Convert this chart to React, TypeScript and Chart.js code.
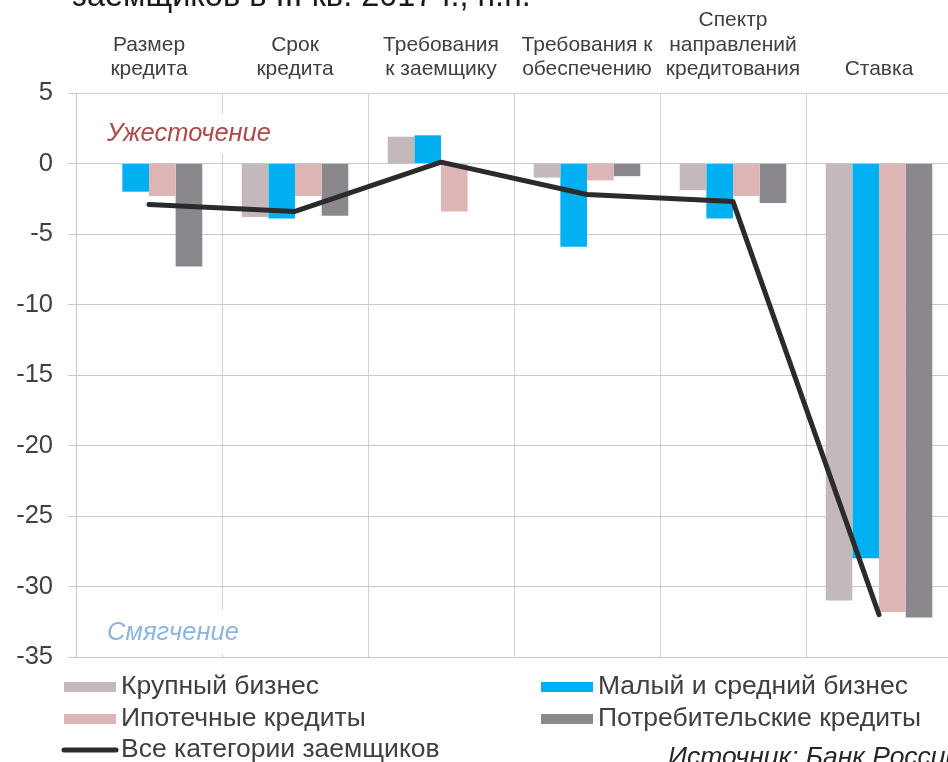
import React, { useEffect, useRef } from "react";
import { Chart, registerables } from "chart.js";

Chart.register(...registerables);

const categories: string[][] = [
  ["Размер", "кредита"],
  ["Срок", "кредита"],
  ["Требования", "к заемщику"],
  ["Требования к", "обеспечению"],
  ["Спектр", "направлений", "кредитования"],
  ["Ставка"],
];

const largeBusiness = [0, -3.8, 1.9, -1.0, -1.9, -31.0];
const smallMidBusiness = [-2.0, -3.9, 2.0, -5.9, -3.9, -28.0];
const mortgage = [-2.3, -2.3, -3.4, -1.2, -2.3, -31.8];
const consumer = [-7.3, -3.7, 0, -0.9, -2.8, -32.2];
const allBorrowers = [-2.9, -3.4, 0.1, -2.2, -2.7, -32.0];

const seriesLabels = [
  "Крупный бизнес",
  "Малый и средний бизнес",
  "Ипотечные кредиты",
  "Потребительские кредиты",
  "Все категории заемщиков",
];
const seriesColors = ["#c4b9ba", "#00b0f0", "#ddb5b5", "#8a888d", "#2b2b2b"];

const titleText = "заемщиков в III кв. 2017 г., п.п.";
const sourceText = "Источник: Банк России";
const tightenText = "Ужесточение";
const easeText = "Смягчение";

const FONT = '"Liberation Sans", Arial, sans-serif';
const TEXT = "#404040";

const overlayPlugin = {
  id: "overlay",
  beforeDatasetsDraw(chart: any) {
    const ctx = chart.ctx;
    ctx.save();
    ctx.fillStyle = "#ffffff";
    ctx.fillRect(92, 114, 200, 40);
    ctx.fillRect(92, 610, 170, 44);
    ctx.font = `italic 25.5px ${FONT}`;
    ctx.textBaseline = "middle";
    ctx.textAlign = "left";
    ctx.fillStyle = "#b04a4a";
    ctx.fillText(tightenText, 107, 134);
    ctx.fillStyle = "#8db4e2";
    ctx.fillText(easeText, 107, 633);
    ctx.restore();
  },
  afterDraw(chart: any) {
    const ctx = chart.ctx;
    ctx.save();
    // title (cut at top)
    ctx.font = `32.5px ${FONT}`;
    ctx.fillStyle = "#1a1a1a";
    ctx.textBaseline = "alphabetic";
    ctx.textAlign = "left";
    ctx.fillText(titleText, 72, 6);

    // legend
    const ds = chart.data.datasets;
    ctx.font = `26.5px ${FONT}`;
    ctx.textBaseline = "middle";
    const items = [
      { i: 0, x: 64, y: 687 },
      { i: 1, x: 541, y: 687 },
      { i: 2, x: 64, y: 719 },
      { i: 3, x: 541, y: 719 },
    ];
    for (const it of items) {
      ctx.fillStyle = ds[it.i].backgroundColor;
      ctx.fillRect(it.x, it.y - 5, 52, 10);
      ctx.fillStyle = TEXT;
      ctx.fillText(ds[it.i].label, it.x + 57, it.y);
    }
    // line legend
    ctx.strokeStyle = ds[4].borderColor;
    ctx.lineWidth = 5;
    ctx.lineCap = "round";
    ctx.beginPath();
    ctx.moveTo(64, 750);
    ctx.lineTo(116, 750);
    ctx.stroke();
    ctx.fillStyle = TEXT;
    ctx.fillText(ds[4].label, 121, 750);

    // source
    ctx.font = `italic 26.5px ${FONT}`;
    ctx.fillStyle = "#262626";
    ctx.fillText(sourceText, 668, 758);
    ctx.restore();
  },
};

export default function App() {
  const ref = useRef<HTMLCanvasElement | null>(null);
  useEffect(() => {
    if (!ref.current) return;
    const barDs = (i: number, data: number[]) => ({
      type: "bar" as const,
      label: seriesLabels[i],
      data,
      backgroundColor: seriesColors[i],
      borderWidth: 0,
      categoryPercentage: 0.73,
      barPercentage: 1,
      order: 1,
    });
    const chart = new Chart(ref.current, {
      type: "bar",
      data: {
        labels: categories,
        datasets: [
          barDs(0, largeBusiness),
          barDs(1, smallMidBusiness),
          barDs(2, mortgage),
          barDs(3, consumer),
          {
            type: "line" as const,
            label: seriesLabels[4],
            data: allBorrowers,
            borderColor: seriesColors[4],
            backgroundColor: seriesColors[4],
            borderWidth: 5,
            pointRadius: 0,
            tension: 0,
            borderCapStyle: "round",
            borderJoinStyle: "round",
            order: 0,
          } as any,
        ],
      },
      options: {
        responsive: false,
        animation: false,
        layout: { padding: { left: 0, right: 4, top: 0, bottom: 105 } },
        plugins: {
          legend: { display: false },
          tooltip: { enabled: false },
          title: { display: false },
        },
        scales: {
          x: {
            position: "top",
            offset: true,
            grid: { color: "#d0d0d0", offset: true, drawTicks: false, lineWidth: 1 },
            border: { color: "#d0d0d0" },
            ticks: {
              color: TEXT,
              font: { family: FONT, size: 21, lineHeight: 1.15 },
              padding: 12,
              maxRotation: 0,
              autoSkip: false,
            },
            afterFit: (s: any) => {
              s.height = 93;
            },
          },
          y: {
            min: -35,
            max: 5,
            grid: { color: "#c8c8c8", tickLength: 8, lineWidth: 1 },
            border: { color: "#c8c8c8" },
            ticks: {
              stepSize: 5,
              color: TEXT,
              font: { family: FONT, size: 25.5 },
              padding: 15,
              callback: (v: any) => String(v),
            },
            afterFit: (s: any) => {
              s.width = 76;
            },
          },
        },
      },
      plugins: [overlayPlugin],
    });
    return () => chart.destroy();
  }, []);
  return (
    <div
      style={{
        position: "absolute",
        left: 0,
        top: 0,
        width: 948,
        height: 762,
        overflow: "hidden",
        background: "#ffffff",
      }}
    >
      <canvas ref={ref} width={956} height={762} style={{ display: "block" }} />
    </div>
  );
}
